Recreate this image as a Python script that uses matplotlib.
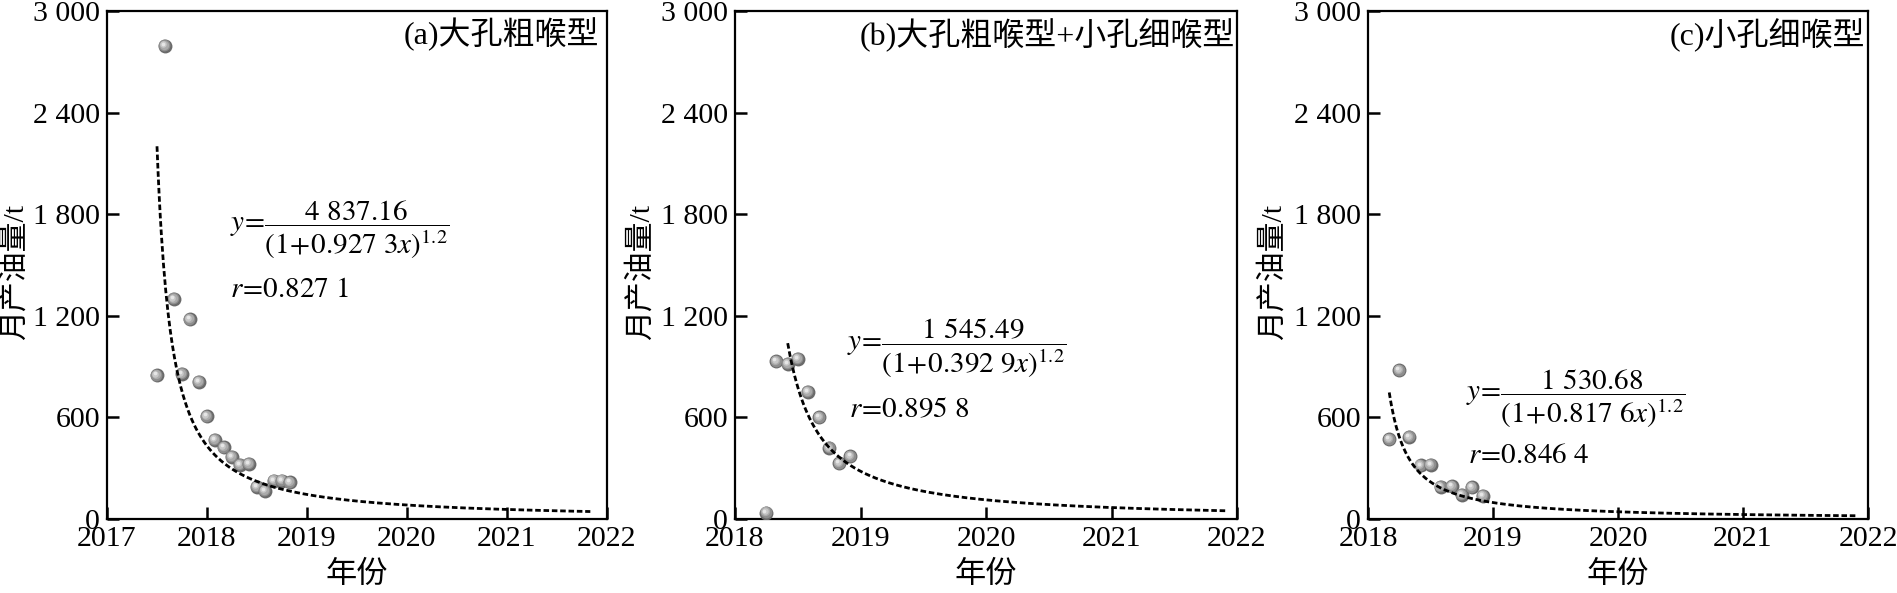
import numpy as np
import matplotlib
matplotlib.use('Agg')
import matplotlib.pyplot as plt
from matplotlib.transforms import offset_copy

plt.rcParams['font.family'] = ['Liberation Serif', 'Noto Sans CJK SC']
plt.rcParams['mathtext.fontset'] = 'stix'

# monthly oil output (year as decimal, t)
a_years = [2017.50, 2017.58, 2017.67, 2017.75, 2017.83, 2017.92, 2018.00, 2018.08, 2018.17,
           2018.25, 2018.33, 2018.42, 2018.50, 2018.58, 2018.67, 2018.75, 2018.83]
a_oil = [849, 2795, 1299, 856, 1179, 811, 606, 468, 423, 366, 321, 325, 189, 167, 227, 227, 218]

b_years = [2018.25, 2018.33, 2018.42, 2018.50, 2018.58, 2018.67, 2018.75, 2018.83, 2018.92]
b_oil = [38, 932, 916, 947, 751, 602, 419, 330, 370]

c_years = [2018.17, 2018.25, 2018.33, 2018.42, 2018.50, 2018.58, 2018.67, 2018.75, 2018.83, 2018.92]
c_oil = [472, 878, 484, 316, 321, 189, 194, 143, 187, 138]

# fit parameters y = A/(1+B*x)^1.2, x = month number (1 at fit start)
a_fit = (4837.16, 0.9273, 2017.50, 53)
b_fit = (1545.49, 0.3929, 2018.42, 43)
c_fit = (1530.68, 0.8176, 2018.17, 46)

titles = ['(a)大孔粗喉型', '(b)大孔粗喉型+小孔细喉型', '(c)小孔细喉型']
eqs = [r'$y\!=\!\dfrac{4\ 837.16}{(1\!+\!0.927\ 3x)^{1.2}}$',
       r'$y\!=\!\dfrac{1\ 545.49}{(1\!+\!0.392\ 9x)^{1.2}}$',
       r'$y\!=\!\dfrac{1\ 530.68}{(1\!+\!0.817\ 6x)^{1.2}}$']
rs = [r'$r\!=\!0.827\ 1$', r'$r\!=\!0.895\ 8$', r'$r\!=\!0.846\ 4$']

yticks = [0, 600, 1200, 1800, 2400, 3000]
ytick_labels = ['0', '600', '1 200', '1 800', '2 400', '3 000']

W, H = 1897, 593
fig = plt.figure(figsize=(W / 100, H / 100), dpi=100)

boxes = [(107, 500), (735, 502), (1368, 500)]
xlims = [(2017, 2022), (2018, 2022), (2018, 2022)]
eq_pos = [(0.246, 0.570), (0.223, 0.337), (0.196, 0.237)]
r_pos = [(0.246, 0.451), (0.227, 0.213), (0.201, 0.124)]
title_x = [0.985, 0.996, 0.994]
ylabel_x = [-0.157, -0.16, -0.162]

# shaded gray balls: (dx, dy, size, colour)
layers = [(0, 0, 100, '#6a6a6a'), (-0.4, 0.4, 72, '#8e8e8e'), (-0.8, 0.8, 45, '#ababab'),
          (-1.1, 1.1, 22, '#c8c8c8'), (-1.4, 1.4, 7, '#e6e6e6')]


def draw_balls(ax, xs, ys):
    z = 3
    for xi, yi in zip(xs, ys):
        for dx, dy, s, col in layers:
            tr = offset_copy(ax.transData, fig=fig, x=dx, y=dy, units='points')
            ax.scatter([xi], [yi], s=s, color=col, linewidths=0, zorder=z, transform=tr)
            z += 0.01


data = [(a_years, a_oil, a_fit), (b_years, b_oil, b_fit), (c_years, c_oil, c_fit)]

for i, (xs, ys, fit) in enumerate(data):
    left, width = boxes[i]
    ax = fig.add_axes([left / W, (H - 519) / H, width / W, 508 / H])
    A, B, start, n = fit
    m = np.linspace(1, n, 400)
    ax.plot(start + (m - 1) / 12, A / (1 + B * m) ** 1.2, color='black', lw=2.0,
            linestyle=(0, (2.0, 1.0)), zorder=10)
    draw_balls(ax, xs, ys)

    ax.set_xlim(*xlims[i])
    ax.set_ylim(0, 3000)
    ax.set_xticks(range(xlims[i][0], xlims[i][1] + 1))
    ax.set_yticks(yticks)
    ax.set_yticklabels(ytick_labels)
    ax.tick_params(direction='in', length=8.5, width=1.8, labelsize=21.5, pad=5)
    for sp in ax.spines.values():
        sp.set_linewidth(1.6)

    ax.set_ylabel('月产油量/t', fontsize=21.5)
    ax.yaxis.set_label_coords(ylabel_x[i], 0.486)
    ax.set_xlabel('年份', fontsize=22.5)
    ax.xaxis.set_label_coords(0.5, -0.082)

    ax.text(title_x[i], 0.953, titles[i], transform=ax.transAxes, ha='right', va='center', fontsize=23)
    ax.text(eq_pos[i][0], eq_pos[i][1], eqs[i], transform=ax.transAxes, ha='left', va='center', fontsize=21)
    ax.text(r_pos[i][0], r_pos[i][1], rs[i], transform=ax.transAxes, ha='left', va='center', fontsize=21)

fig.savefig('out.png', dpi=100)
